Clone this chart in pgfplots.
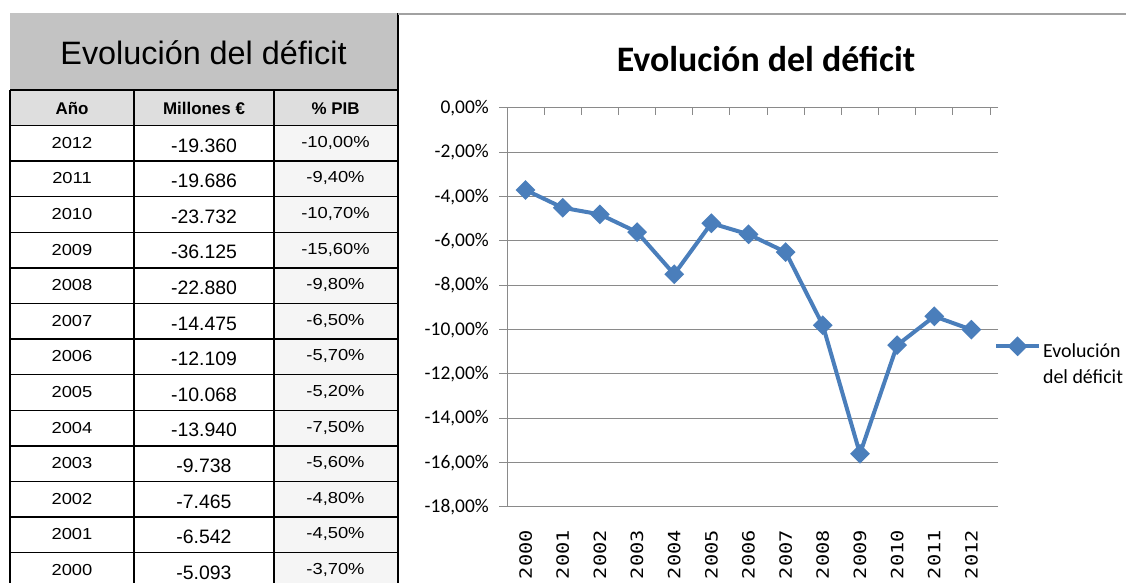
\documentclass[border=0pt]{standalone}
\usepackage{fontspec}
\setmainfont{Liberation Sans}
\newfontfamily\calibri{Carlito}
\newfontfamily\narrowf[FakeStretch=1.15]{Liberation Sans}
\newfontfamily\monof[FakeStretch=1.2]{DejaVu Sans Mono}
\usepackage{pgfplots}
\pgfplotsset{compat=1.18}
\definecolor{serie}{HTML}{4A7EBB}
\definecolor{titlegray}{HTML}{C3C3C3}
\definecolor{headgray}{HTML}{DEDEDE}
\definecolor{gridgray}{HTML}{8A8A8A}
\newcommand\trow[4]{%
 \node[inner sep=0pt,font=\narrowf\fontsize{16}{18}\selectfont] at (72,{457.5-35.6*#1-17.3}) {#2};
 \node[inner sep=0pt,font=\fontsize{19.5}{22}\selectfont] at (204,{457.5-35.6*#1-20}) {#3};
 \node[inner sep=0pt,font=\narrowf\fontsize{16}{18}\selectfont] at (335.5,{457.5-35.6*#1-17.3}) {#4};}
\begin{document}
\begin{tikzpicture}[x=1bp,y=1bp]
\path[use as bounding box] (0,0) rectangle (1126,583);
% ---------- table ----------
\fill[titlegray] (10,570) rectangle (397,493);
\fill[headgray] (10,493) rectangle (397,457.5);
\fill[black!4] (274,457.5) rectangle (397,0);
\foreach \k in {0,...,12} \draw[line width=1.5bp] (10,{457.5-35.6*\k}) -- (397,{457.5-35.6*\k});
\draw[line width=1.5bp] (10,493) -- (397,493);
\draw[line width=1.5bp] (10,493) -- (10,0);
\draw[line width=1.5bp] (134,493) -- (134,0);
\draw[line width=1.5bp] (274,493) -- (274,0);
\draw[line width=2bp] (398,570) -- (398,0);
\node[inner sep=0pt,anchor=base,font=\fontsize{32.5}{36}\selectfont] at (203.5,518) {Evolución del déficit};
\node[inner sep=0pt,anchor=base,font=\bfseries\fontsize{17}{20}\selectfont] at (72,468) {Año};
\node[inner sep=0pt,anchor=base,font=\bfseries\fontsize{17}{20}\selectfont] at (204,468) {Millones €};
\node[inner sep=0pt,anchor=base,font=\bfseries\fontsize{17}{20}\selectfont] at (335.5,468) {\% PIB};
\trow{0}{2012}{-19.360}{-10,00\%}
\trow{1}{2011}{-19.686}{-9,40\%}
\trow{2}{2010}{-23.732}{-10,70\%}
\trow{3}{2009}{-36.125}{-15,60\%}
\trow{4}{2008}{-22.880}{-9,80\%}
\trow{5}{2007}{-14.475}{-6,50\%}
\trow{6}{2006}{-12.109}{-5,70\%}
\trow{7}{2005}{-10.068}{-5,20\%}
\trow{8}{2004}{-13.940}{-7,50\%}
\trow{9}{2003}{-9.738}{-5,60\%}
\trow{10}{2002}{-7.465}{-4,80\%}
\trow{11}{2001}{-6.542}{-4,50\%}
\trow{12}{2000}{-5.093}{-3,70\%}
% ---------- chart ----------
\draw[gridgray!80, line width=1.5bp] (398,569) -- (1126,569);
\node[inner sep=0pt,anchor=base,font=\calibri\bfseries\fontsize{36}{40}\selectfont] at (766,511) {Evolución del déficit};
\begin{axis}[at={(507bp,76bp)}, anchor=south west, scale only axis,
  width=483bp, height=399bp,
  xmin=-0.5, xmax=12.5, ymin=-18, ymax=0,
  axis line style={draw=none},
  ytick={-18,-16,...,0},
  yticklabels={{-18,00\%},{-16,00\%},{-14,00\%},{-12,00\%},{-10,00\%},{-8,00\%},{-6,00\%},{-4,00\%},{-2,00\%},{0,00\%}},
  ymajorgrids, grid style={gridgray, line width=1bp},
  xtick={0,...,12},
  xticklabels={2000,2001,2002,2003,2004,2005,2006,2007,2008,2009,2010,2011,2012},
  x tick style={draw=none},
  y tick style={gridgray, line width=1bp},
  tick align=outside, major tick length=8bp,
  xticklabel style={rotate=90, anchor=east, font=\monof\fontsize{17}{19}\selectfont, inner sep=0pt, xshift=-15bp},
  yticklabel style={font=\calibri\fontsize{19.5}{22}\selectfont, inner sep=0pt, xshift=-10bp},
  clip=false,
  legend cell align=left,
  legend style={draw=none, fill=none, at={(axis description cs:1.008,0.421)}, anchor=north west,
    font=\calibri\fontsize{20}{26}\selectfont, inner sep=0pt, cells={align=left}},
  legend image code/.code={\draw[#1, mark repeat=2, mark phase=2] plot coordinates {(0bp,18bp) (21.5bp,18bp) (43bp,18bp)};},
]
\draw[gridgray, line width=1bp] (axis cs:-0.5,0) -- (axis cs:-0.5,-18);
\pgfplotsinvokeforeach{0.5,1.5,...,12.5}{\draw[gridgray, line width=1bp] (axis cs:#1,0) -- ([yshift=-7bp]axis cs:#1,0);}
\addplot[serie, line width=4bp, mark=square*, mark size=5bp, mark options={rotate=45, solid, fill=serie}]
 coordinates {(0,-3.7) (1,-4.5) (2,-4.8) (3,-5.6) (4,-7.5) (5,-5.2) (6,-5.7) (7,-6.5) (8,-9.8) (9,-15.6) (10,-10.7) (11,-9.4) (12,-10.0)};
\addlegendentry{Evolución\\del déficit}
\end{axis}
\end{tikzpicture}
\end{document}
